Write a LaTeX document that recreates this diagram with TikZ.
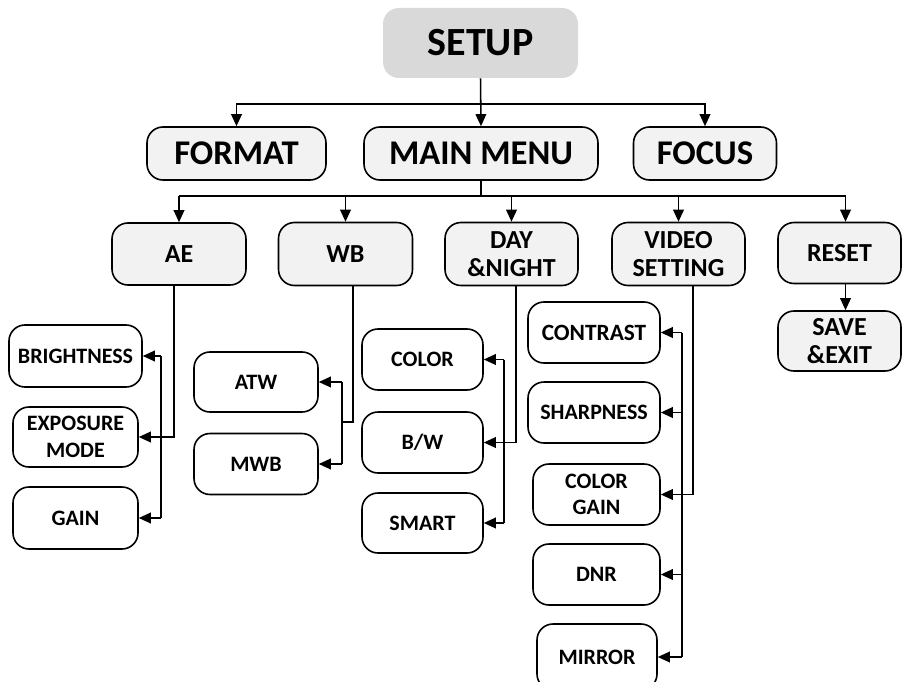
\documentclass[tikz,border=0pt]{standalone}
\usepackage{fontspec}
\setmainfont{Carlito}
\usetikzlibrary{arrows.meta}
\definecolor{setupgray}{RGB}{217,217,217}
\definecolor{boxgray}{RGB}{242,242,242}
\tikzset{
  px/.style={x=0.75pt,y=-0.75pt},
  sz/.style 2 args={minimum width=#1*0.75pt, minimum height=#2*0.75pt},
  topbox/.style={rectangle, rounded corners=12pt, fill=setupgray, draw=none, inner sep=0pt,
    font=\bfseries\fontsize{30}{34}\selectfont, align=center},
  lvlone/.style={rectangle, rounded corners=12pt, fill=boxgray, draw=black, line width=1.2pt, inner sep=0pt,
    font=\bfseries\fontsize{26}{28}\selectfont, align=center},
  lvltwo/.style={rectangle, rounded corners=12pt, fill=boxgray, draw=black, line width=1.2pt, inner sep=0pt,
    font=\bfseries\fontsize{19.5}{21}\selectfont, align=center},
  leaf/.style={rectangle, rounded corners=12pt, fill=white, draw=black, line width=1.2pt, inner sep=0pt,
    font=\bfseries\fontsize{16.5}{20}\selectfont, align=center},
  conn/.style={draw=black, line width=1.15pt},
  arr/.style={conn, -{Triangle[length=9pt,width=8pt]}},
}
\begin{document}
\begin{tikzpicture}[px]
\useasboundingbox (0,0) rectangle (902,681);
\clip (0,0) rectangle (902,681);
% top
\node[topbox, sz={195}{70}] (setup) at (480.5,43) {SETUP};
\node[lvlone, sz={179}{53}] (format) at (236.5,153.5) {FORMAT};
\node[lvlone, sz={234}{53}] (mainmenu) at (481,153.5) {MAIN MENU};
\node[lvlone, sz={143}{53}] (focus) at (705,153.5) {FOCUS};
\coordinate (hone) at (481,104);
\draw[arr] (setup.south) -- (mainmenu.north);
\draw[arr] (setup.south |- hone) -| (format.north);
\draw[arr] (setup.south |- hone) -| (focus.north);
% level two
\node[lvltwo, sz={134}{62}] (ae) at (179,254) {AE};
\node[lvltwo, sz={134}{63}] (wb) at (345.5,254) {WB};
\node[lvltwo, sz={133}{63}] (day) at (511.5,254) {DAY\\\&NIGHT};
\node[lvltwo, sz={133}{63}] (video) at (678.5,254) {VIDEO\\SETTING};
\node[lvltwo, sz={123}{61}] (reset) at (839.5,253) {RESET};
\node[lvltwo, sz={123}{60}] (save) at (839.5,341) {SAVE\\\&EXIT};
\coordinate (htwo) at (481,196);
\draw[conn] (mainmenu.south) -- (htwo);
\draw[conn] (ae.north |- htwo) -- ([xshift=4.5pt]reset.north |- htwo);
\draw[arr] (ae.north |- htwo) -- (ae.north);
\draw[arr] (wb.north |- htwo) -- (wb.north);
\draw[arr] (day.north |- htwo) -- (day.north);
\draw[arr] (video.north |- htwo) -- (video.north);
\draw[arr] ([xshift=4.5pt]reset.north |- htwo) -- ([xshift=4.5pt]reset.north);
\draw[arr] ([xshift=4.5pt]reset.south) -- ([xshift=4.5pt]save.north);
% AE group
\node[leaf, sz={133}{62}] (bright) at (75.5,356) {BRIGHTNESS};
\node[leaf, sz={125}{60}] (expo) at (75.5,437) {EXPOSURE\\MODE};
\node[leaf, sz={125}{62}] (gain) at (75.5,518) {GAIN};
\coordinate (aetrunk) at (174,0);
\coordinate (aebr) at (161,0);
\draw[arr] (aetrunk |- ae.south) |- (expo.east);
\draw[conn] (aebr |- bright.east) -- (aebr |- gain.east);
\draw[arr] (aebr |- bright.east) -- (bright.east);
\draw[arr] (aebr |- gain.east) -- (gain.east);
% WB group
\node[leaf, sz={124}{60}] (atw) at (256,382) {ATW};
\node[leaf, sz={124}{61}] (mwb) at (256,464) {MWB};
\coordinate (wbtrunk) at (353,0);
\coordinate (wbbr) at (342,0);
\coordinate (wbjoin) at (353,422);
\draw[conn] (wbtrunk |- wb.south) -- (wbjoin) -- (wbbr |- wbjoin);
\draw[conn] (wbbr |- atw.east) -- (wbbr |- mwb.east);
\draw[arr] (wbbr |- atw.east) -- (atw.east);
\draw[arr] (wbbr |- mwb.east) -- (mwb.east);
% DAY group
\node[leaf, sz={121}{61}] (color) at (422.5,359.5) {COLOR};
\node[leaf, sz={121}{61}] (bw) at (422.5,442.5) {B/W};
\node[leaf, sz={121}{60}] (smart) at (422.5,523) {SMART};
\coordinate (daytrunk) at (516,0);
\coordinate (daybr) at (504,0);
\draw[arr] (daytrunk |- day.south) |- (bw.east);
\draw[conn] (daybr |- color.east) -- (daybr |- smart.east);
\draw[arr] (daybr |- color.east) -- (color.east);
\draw[arr] (daybr |- smart.east) -- (smart.east);
% VIDEO group
\node[leaf, sz={132}{61}, font=\bfseries\fontsize{17.5}{20}\selectfont] (contrast) at (594,332.5) {CONTRAST};
\node[leaf, sz={132}{61}] (sharp) at (594,412.5) {SHARPNESS};
\node[leaf, sz={127}{61}] (cgain) at (596.5,494.5) {COLOR\\GAIN};
\node[leaf, sz={127}{61}] (dnr) at (596.5,574.5) {DNR};
\node[leaf, sz={120}{66}] (mirror) at (597,657) {MIRROR};
\coordinate (vtrunk) at (693,0);
\coordinate (vbr) at (682,0);
\draw[arr] (vtrunk |- video.south) |- (cgain.east);
\draw[conn] (vbr |- contrast.east) -- (vbr |- mirror.east);
\draw[arr] (vbr |- contrast.east) -- (contrast.east);
\draw[arr] (vbr |- sharp.east) -- (sharp.east);
\draw[arr] (vbr |- dnr.east) -- (dnr.east);
\draw[arr] (vbr |- mirror.east) -- (mirror.east);
\end{tikzpicture}
\end{document}
